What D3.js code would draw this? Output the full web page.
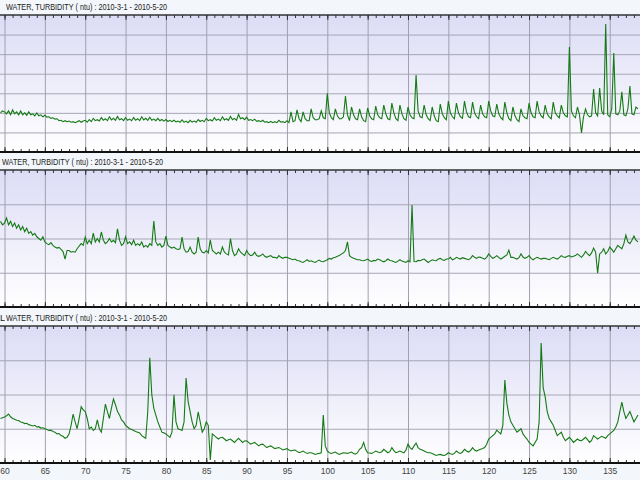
<!DOCTYPE html>
<html><head><meta charset="utf-8">
<script src="https://cdn.jsdelivr.net/npm/d3@7"></script>
<style>body{margin:0;background:#f3f6fa;} svg{display:block}</style>
</head><body><svg id="c" width="640" height="480"></svg>
<script>
// ---- data ----
const startDay = 59.5, stepDay = 0.25;           // sample times (day of year), 6-hourly samples
const xTicks = [60,65,70,75,80,85,90,95,100,105,110,115,120,125,130,135];
const titlePrefixes = ["", "", "L"];
const titleText = "WATER, TURBIDITY ( ntu) : 2010-3-1 - 2010-5-20";
const rawTurbidity = [2.0,2.1,
 2.05,1.95,2.1,1.9, 2.15,1.95,2.05,1.9, 2.1,1.9,2.0,1.88, 2.05,1.9,1.95,1.85, 2.0,1.85,1.9,1.8,
 1.88,1.78,1.8,1.72, 1.75,1.68,1.7,1.6, 1.62,1.55,1.6,1.55, 1.58,1.52,1.55,1.5, 1.55,1.6,1.52,1.58,
 1.62,1.52,1.66,1.55, 1.72,1.6,1.65,1.58, 1.76,1.62,1.7,1.6, 1.8,1.64,1.72,1.62, 1.82,1.65,1.7,1.6,
 1.75,1.62,1.68,1.6, 1.76,1.62,1.7,1.6, 1.8,1.64,1.72,1.62, 1.78,1.62,1.68,1.6, 1.72,1.6,1.66,1.58,
 1.66,1.56,1.62,1.55, 1.62,1.54,1.58,1.52, 1.64,1.52,1.58,1.5, 1.62,1.53,1.58,1.52, 1.66,1.56,1.62,1.55,
 1.72,1.6,1.65,1.58, 1.75,1.62,1.68,1.6, 1.8,1.64,1.7,1.62, 1.82,1.65,1.72,1.62, 1.92,1.7,1.75,1.65,
 1.78,1.62,1.66,1.6, 1.68,1.57,1.6,1.55, 1.62,1.52,1.55,1.5, 1.56,1.5,1.55,1.5, 1.62,1.52,1.55,1.5,
 1.6,1.5,2.05,1.55, 1.6,2.15,1.7,1.55, 2.05,1.7,1.6,1.6, 2.2,1.75,1.65,1.65, 1.7,2.1,1.75,1.7,
 3.0,2.0,1.75,1.65, 2.2,1.85,1.7,1.7, 1.8,2.86,1.9,1.6, 2.3,1.9,1.7,1.65, 2.2,1.8,1.6,1.55,
 2.25,1.85,1.7,1.65, 2.35,1.9,1.75,1.7, 2.4,1.95,1.7,1.65, 2.5,2.0,1.7,1.6, 2.4,1.95,1.7,1.62,
 2.3,1.9,1.75,1.7, 3.93,2.1,1.8,1.75, 2.4,1.9,1.7,1.6, 2.3,1.85,1.6,1.55, 2.45,1.95,1.75,1.65,
 2.6,2.0,1.8,1.7, 2.5,2.0,1.8,1.72, 2.6,2.05,1.8,1.75, 2.55,2.0,1.8,1.7, 2.4,1.95,1.8,1.75,
 2.6,2.1,1.85,1.8, 2.45,1.95,1.75,1.65, 2.55,2.0,1.7,1.6, 2.3,1.85,1.65,1.55, 2.2,1.85,1.75,1.7,
 2.5,2.0,1.8,1.75, 2.6,2.05,1.85,1.75, 2.4,1.95,1.8,1.7, 2.55,2.0,1.85,1.75, 2.4,2.0,1.85,1.8,
 5.37,2.1,1.85,1.75, 2.3,1.9,0.97,1.8, 2.2,1.9,1.8,1.85, 3.22,2.0,1.85,3.27, 2.1,1.9,6.54,1.9,
 1.8,2.2,5.06,1.95, 1.9,2.1,3.07,1.9, 1.85,2.2,3.37,1.95, 1.9,2.3,2.2];
const settledTurbidity = [2.5,2.4,
 2.45,2.6,2.4,2.5, 2.35,2.45,2.3,2.4, 2.25,2.35,2.2,2.3, 2.15,2.2,2.1,2.15, 2.05,2.0,1.95,2.05,
 1.9,1.85,1.82,1.88, 1.8,1.75,1.72,1.74, 1.68,1.62,1.4,1.65, 1.65,1.6,1.62,1.6, 1.7,1.78,1.85,1.8,
 2.04,1.85,1.95,1.85, 2.16,1.9,2.0,1.9, 2.19,1.95,1.85,1.9, 2.0,1.9,1.95,1.88, 2.28,1.95,1.8,1.85,
 2.05,1.85,1.9,1.82, 1.95,1.8,1.85,1.8, 1.9,1.75,1.8,1.75, 1.85,1.8,2.51,1.9, 1.8,1.85,1.75,1.8,
 2.07,1.8,1.75,1.72, 1.75,1.7,1.68,1.7, 2.04,1.7,1.6,1.62, 1.75,1.6,1.55,1.6, 2.04,1.7,1.6,1.58,
 1.65,1.58,1.96,1.65, 1.6,1.55,1.6,1.55, 1.75,1.6,1.55,1.52, 2.0,1.65,1.5,1.55, 1.7,1.6,1.55,1.5,
 1.65,1.55,1.5,1.52, 1.6,1.5,1.48,1.5, 1.55,1.48,1.45,1.48, 1.5,1.45,1.45,1.42, 1.5,1.45,1.42,1.45,
 1.45,1.42,1.4,1.38, 1.4,1.36,1.35,1.32, 1.3,1.34,1.38,1.33, 1.35,1.32,1.3,1.34, 1.37,1.33,1.32,1.35,
 1.38,1.42,1.4,1.44, 1.45,1.48,1.5,1.55, 1.58,1.65,1.9,1.5, 1.45,1.42,1.4,1.38, 1.38,1.36,1.35,1.37,
 1.4,1.35,1.33,1.36, 1.35,1.4,1.38,1.34, 1.32,1.35,1.4,1.36, 1.35,1.32,1.3,1.34, 1.38,1.34,1.32,1.3,
 1.35,1.32,2.98,1.33, 1.32,1.36,1.35,1.38, 1.4,1.35,1.3,1.34, 1.38,1.36,1.35,1.4, 1.42,1.38,1.36,1.4,
 1.4,1.45,1.38,1.4, 1.45,1.42,1.4,1.44, 1.42,1.4,1.38,1.42, 1.5,1.45,1.42,1.46, 1.45,1.42,1.4,1.45,
 1.55,1.48,1.42,1.45, 1.5,1.45,1.4,1.44, 1.48,1.52,1.66,1.45, 1.45,1.42,1.4,1.44, 1.55,1.46,1.42,1.45,
 1.5,1.42,1.38,1.42, 1.45,1.42,1.4,1.42, 1.42,1.4,1.38,1.42, 1.45,1.42,1.4,1.44, 1.5,1.46,1.45,1.48,
 1.5,1.46,1.48,1.5, 1.55,1.5,1.45,1.52, 1.62,1.55,1.5,1.58, 1.72,1.6,0.99,1.55, 1.6,1.7,1.55,1.62,
 1.75,1.68,1.6,1.7, 1.8,1.75,1.7,1.85, 2.1,1.9,1.85,1.95, 2.07,1.95,1.9];
const finalTurbidity = [1.3,1.32,
 1.34,1.38,1.43,1.35, 1.3,1.28,1.25,1.24, 1.2,1.18,1.15,1.16, 1.12,1.1,1.08,1.1, 1.05,1.06,1.02,1.03,
 1.0,0.98,0.95,0.96, 0.92,0.9,0.85,0.86, 0.8,0.78,0.72,0.75, 0.85,1.1,1.43,1.2, 1.0,1.3,1.64,1.55,
 1.5,1.3,1.0,1.05, 0.95,1.0,1.26,1.0, 0.9,1.3,1.72,1.5, 1.3,1.6,1.87,1.7, 1.5,1.4,1.26,1.2,
 1.1,1.05,1.0,0.98, 0.95,0.92,0.9,0.88, 0.8,0.76,0.72,1.5, 3.07,2.0,1.6,1.4, 1.2,1.05,0.9,0.88,
 0.85,0.8,0.75,0.9, 1.99,1.2,1.0,0.98, 0.95,1.2,2.48,1.8, 1.5,1.2,1.0,1.1, 1.49,1.2,0.9,1.0,
 1.2,1.1,0.09,0.85, 0.8,0.75,0.7,0.74, 0.75,0.7,0.65,0.68, 0.7,0.65,0.6,0.66, 0.72,0.66,0.6,0.64,
 0.65,0.6,0.55,0.58, 0.6,0.55,0.5,0.54, 0.55,0.5,0.45,0.48, 0.5,0.46,0.42,0.44, 0.45,0.42,0.38,0.4,
 0.42,0.38,0.35,0.37, 0.38,0.34,0.3,0.32, 0.35,0.31,0.28,0.3, 0.3,0.28,0.25,0.27, 0.28,0.3,1.4,0.5,
 0.35,0.3,0.28,0.3, 0.32,0.28,0.25,0.28, 0.3,0.29,0.28,0.3, 0.32,0.28,0.26,0.3, 0.4,0.45,0.6,0.4,
 0.3,0.29,0.28,0.31, 0.35,0.32,0.3,0.33, 0.4,0.35,0.3,0.33, 0.45,0.36,0.3,0.32, 0.35,0.32,0.3,0.38,
 0.55,0.45,0.4,0.5, 0.58,0.45,0.4,0.38, 0.35,0.32,0.3,0.3, 0.28,0.25,0.22,0.24, 0.25,0.23,0.22,0.25,
 0.3,0.27,0.25,0.28, 0.35,0.3,0.28,0.32, 0.4,0.35,0.32,0.36, 0.45,0.38,0.35,0.38, 0.4,0.42,0.45,0.55,
 0.7,0.75,0.8,0.85, 0.96,0.9,0.85,1.1, 2.42,1.75,1.4,1.2, 1.1,1.0,0.9,0.95, 1.0,0.85,0.76,0.7,
 0.6,0.55,0.5,0.6, 0.7,1.2,3.5,2.2, 1.93,1.5,1.3,1.2, 1.1,0.95,0.8,0.85, 0.9,0.75,0.65,0.7,
 0.75,0.68,0.6,0.65, 0.7,0.66,0.65,0.7, 0.75,0.68,0.6,0.66, 0.8,0.75,0.7,0.74, 0.78,0.75,0.72,0.8,
 0.85,0.9,0.95,1.05, 1.2,1.5,1.78,1.5, 1.3,1.4,1.5,1.35, 1.2,1.3,1.4];
const seriesList = [rawTurbidity, settledTurbidity, finalTurbidity];
const yDomains = [[0,7],[0,4],[0,4]];

// ---- drawing ----
const W = 640;
const svg = d3.select("#c");
svg.append("rect").attr("width",640).attr("height",480).attr("fill","#f3f6fa");
const defs = svg.append("defs");
const grad = defs.append("linearGradient").attr("id","bg").attr("x1",0).attr("y1",0).attr("x2",0).attr("y2",1);
grad.append("stop").attr("offset","0%").attr("stop-color","#dcdcf6");
grad.append("stop").attr("offset","100%").attr("stop-color","#ffffff");

const x = d3.scaleLinear().domain([59.44,138.75]).range([0,W]);
const panelTops = [15,170,326], panelH = 137;
const titleY = [10,165,321];
const minorTicks = d3.range(60,139,1);
const font = "Liberation Sans, Arial, sans-serif";

seriesList.forEach((series,i)=>{
  const top = panelTops[i], bottom = top + panelH;
  const y = d3.scaleLinear().domain(yDomains[i]).range([bottom, top]);
  const g = svg.append("g");
  defs.append("clipPath").attr("id","clip"+i).append("rect")
    .attr("x",0).attr("y",top).attr("width",W).attr("height",panelH);

  g.append("rect").attr("x",0).attr("y",top).attr("width",W).attr("height",panelH).attr("fill","url(#bg)");

  // horizontal grid
  const yg = d3.range(yDomains[i][0]+1, yDomains[i][1], 1);
  g.append("g").call(d3.axisLeft(y).tickValues(yg).tickSize(-W).tickFormat(""))
    .call(s=>s.select(".domain").remove())
    .selectAll("line").attr("stroke","#a6a6b6").attr("stroke-width",1);
  // vertical grid
  g.append("g").attr("transform",`translate(0,${bottom})`)
    .call(d3.axisBottom(x).tickValues(xTicks).tickSize(-panelH).tickFormat(""))
    .call(s=>s.select(".domain").remove())
    .selectAll("line").attr("stroke","#a0a0b0").attr("stroke-width",1);

  // data line
  const line = d3.line().x((d,j)=>x(startDay + j*stepDay)).y(d=>y(d));
  g.append("path").datum(series).attr("d",line).attr("fill","none")
    .attr("stroke","#157a15").attr("stroke-width",1.1).attr("clip-path",`url(#clip${i})`);

  // borders with inward ticks
  [[minorTicks,3],[xTicks,5]].forEach(([tv,len])=>{
    g.append("g").attr("transform",`translate(0,${top})`)
      .call(d3.axisBottom(x).tickValues(tv).tickSize(len).tickFormat(""))
      .call(s=>s.select(".domain").remove())
      .selectAll("line").attr("stroke","#333");
    g.append("g").attr("transform",`translate(0,${bottom})`)
      .call(d3.axisTop(x).tickValues(tv).tickSize(len).tickFormat(""))
      .call(s=>s.select(".domain").remove())
      .selectAll("line").attr("stroke","#333");
  });
  g.append("line").attr("x1",0).attr("x2",W).attr("y1",top).attr("y2",top)
    .attr("stroke","#333").attr("stroke-width",1.5);
  g.append("line").attr("x1",0).attr("x2",W).attr("y1",bottom).attr("y2",bottom)
    .attr("stroke","#111").attr("stroke-width",2);

  // title
  if(titlePrefixes[i]){
    svg.append("text").attr("x",0).attr("y",titleY[i])
      .attr("font-family",font).attr("font-size",9).attr("fill","#222")
      .text(titlePrefixes[i]);
  }
  svg.append("text").attr("x",i===1?2:6).attr("y",titleY[i])
    .attr("font-family",font).attr("font-size",9).attr("fill","#222")
    .attr("textLength",161).attr("lengthAdjust","spacingAndGlyphs")
    .text(titleText);

  if(i===2){
    const ax = svg.append("g").attr("transform",`translate(0,${bottom})`)
      .call(d3.axisBottom(x).tickValues(xTicks).tickSize(0).tickPadding(5).tickFormat(d3.format("d")));
    ax.select(".domain").remove();
    ax.selectAll("text").attr("font-family",font)
      .attr("font-size",8.5).attr("fill","#444");
  }
});
</script></body></html>
